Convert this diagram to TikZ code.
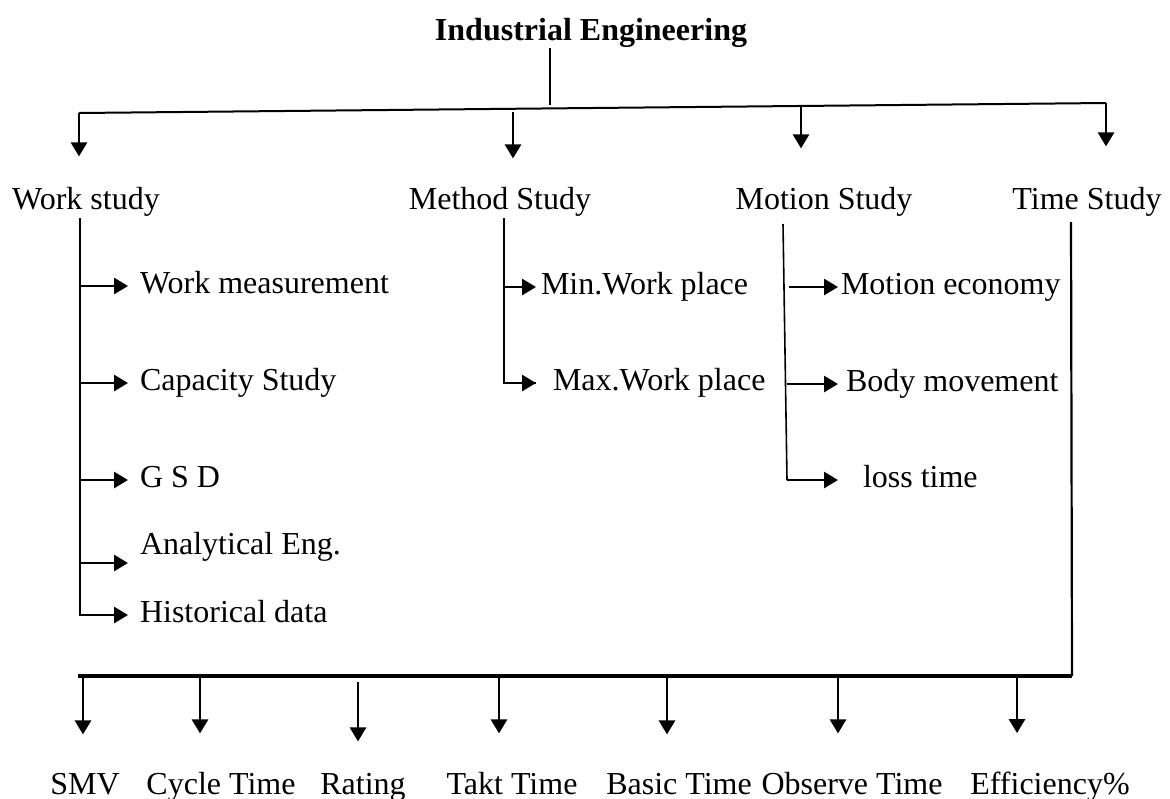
\documentclass[tikz,border=0pt]{standalone}
\usepackage{fontspec}
\setmainfont{Liberation Serif}
\usepackage{tikz}
\usetikzlibrary{arrows.meta}

\begin{document}
\begin{tikzpicture}[x=0.5pt, y=-0.5pt,
        font=\fontsize{16}{19}\selectfont,
        arr/.style={-{Triangle[length=7pt,width=8pt]}, line width=1.4pt},
        stem/.style={line width=1.4pt},
        leaf/.style={anchor=west, inner sep=0pt, outer xsep=6pt, text height=10pt, text depth=2.8pt},
        head/.style={anchor=base, inner sep=0pt}]

            \useasboundingbox (0,0) rectangle (1170,798);

            \node[head, font=\fontsize{16}{19}\selectfont\bfseries] (ie) at (591,40) {Industrial Engineering};

            % top bus
            \coordinate (top) at (550,105);
            \coordinate (bl) at (79,113);
            \coordinate (br) at (1106,103);
            \draw[line width=0.8pt] ([yshift=-0.5pt]ie.south -| top) -- (top);
            \draw[line width=1pt] (bl) -- (br);

            \node[head] (ws) at (86,209) {Work study};
            \node[head] (ms) at (500,209) {Method Study};
            \node[head] (mo) at (824,209) {Motion Study};
            \node[head] (ts) at (1087,209) {Time Study};

            \coordinate (ma) at (513,112);
            \coordinate (moa) at (801,105);
            \draw[arr, shorten >=15pt] (bl) -- (bl |- ws.north);
            \draw[arr, shorten >=14pt] (ma) -- (ma |- ms.north);
            \draw[arr, shorten >=19pt] (moa) -- (moa |- mo.north);
            \draw[arr, shorten >=20pt] (br) -- (br |- ts.north);

            % work study
            \node[leaf] (wm) at (128,286) {Work measurement};
            \node[leaf] (cs) at (128,383) {Capacity Study};
            \node[leaf] (gsd) at (128,480) {G S D};
            \node[leaf] (ae) at (128,547) {Analytical Eng.};
            \node[leaf] (hd) at (128,615) {Historical data};

            \coordinate (wsx) at (80,218);
            \draw[stem] (wsx) |- ([xshift=-6pt]hd.west);
            \draw[arr] (wsx |- hd.west) -- (hd.west);
            \foreach \n in {wm,cs,gsd}
                \draw[arr] (wsx |- \n.west) -- (\n.west);
            \draw[arr] ([yshift=-8pt]wsx |- ae.west) -- ([yshift=-8pt]ae.west);

            % method study
            \node[leaf, outer xsep=2.5pt] (mn) at (536,287) {Min.Work place};
            \node[leaf, outer xsep=8.5pt] (mx) at (536,383) {Max.Work place};

            \coordinate (msx) at (504,218);
            \draw[stem] (msx) |- (mx.west);
            \draw[arr] (msx |- mx.west) -- (mx.west);
            \draw[arr] (msx |- mn.west) -- (mn.west);

            % motion study
            \node[leaf, outer xsep=1.5pt] (me) at (838,287) {Motion economy};
            \node[leaf, outer xsep=4pt] (bm) at (838,384) {Body movement};
            \node[leaf, outer xsep=12.5pt] (lt) at (838,480) {loss time};

            \coordinate (mox) at (783,224);
            \coordinate (moy) at (787,480);
            \draw[line width=0.8pt] (mox) -- (moy);
            \draw[arr] (moy) -- (lt.west);
            \draw[arr] (moy |- bm.west) -- (bm.west);
            \draw[arr] ([xshift=1pt]moy |- me.west) -- (me.west);

            % time study
            \coordinate (tsx) at (1071,222);
            \coordinate (bus) at (1072,676);
            \coordinate (busl) at (78,676);
            \draw[line width=1.1pt] (tsx) -- (bus);
            \draw[line width=2pt] (bus) -- (busl);

            \foreach \ax/\lx/\sy/\gap/\txt in {83/85/676/19/SMV, 200/221/676/19/Cycle Time,
                    358/363/682/15.5/Rating, 499/512/676/19/Takt Time, 667/679/676/19/Basic Time,
                    838/852/676/19/Observe Time, 1017/1050/676/19/Efficiency\%} {
                \node[head] (b\ax) at (\lx,794) {\txt};
                \coordinate (s\ax) at (\ax,\sy);
                \draw[arr, shorten >=\gap pt] (s\ax) -- (s\ax |- b\ax.north);
            }

          \end{tikzpicture}
\end{document}
